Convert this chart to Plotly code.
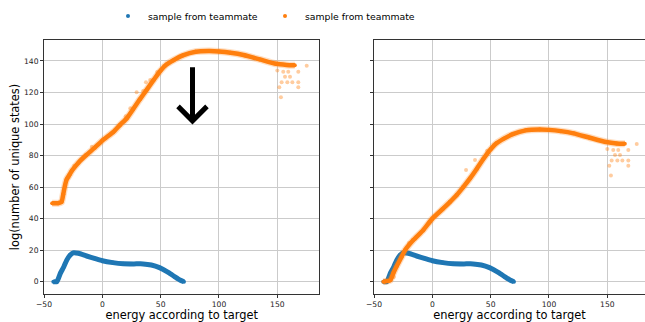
import plotly.graph_objects as go

# ---------------- data ----------------
blue_x = [-42, -39, -36, -33, -30.5, -27.5, -25, -20.5, -13.5, -6, 0, 9, 18, 27, 35, 42, 49, 56.5, 62, 66.5, 70]
blue_y = [0, 0, 5.3, 9.5, 13.7, 16.9, 18.3, 18, 16.3, 14.6, 13.3, 12.1, 11.4, 11.3, 11.3, 10.6, 8.9, 5.9, 3.2, 1.1, 0]

orange_left_x = [-43, -38, -35, -33.5, -32, -30.5, -28, -26, -20.5, -13.5, -6.5, 0, 9.5, 15, 21, 26.5, 32, 38, 44,
                 50, 55, 61, 69, 80, 92, 100, 110, 121, 135, 149, 158, 165]
orange_left_y = [49.7, 49.8, 50.5, 55.5, 61, 65, 68, 70.5, 75.5, 80.5, 85, 89.5, 95, 99.3, 103.7, 109.5, 115.5, 121.7,
                 128, 134, 137.8, 140.5, 143.5, 145.9, 146.3, 146, 145.2, 143.8, 141, 138.2, 137.5, 137.3]

orange_right_x = [-42, -38, -36, -33.4, -30.6, -26.3, -23.4, -16.3, -7.7, 0, 9.4, 15, 20.9, 26.5, 32.3, 38, 43.7,
                  50, 55, 61, 69, 80, 92, 100, 110, 121, 135, 149, 158, 165]
orange_right_y = [0, 0.5, 1, 5.5, 9.8, 15.9, 20, 26.4, 32.8, 40, 46.5, 50.5, 55, 60, 65.5, 71.5, 77.8,
                  84, 87.8, 90.6, 93.6, 96, 96.6, 96.3, 95.5, 94.1, 91.3, 88.6, 87.7, 87.5]

orange_left_out_x = [-36, -33, -31, -29, -24, -9, 20, 24, 29.4, 35, 37.4, 41, 47, 53, 175.2, 150, 155.1, 159.4, 168,
                     156.6, 160.9, 153.7, 158.6, 162.9, 168, 151.7, 168, 153.1]
orange_left_out_y = [51, 58, 63.5, 66, 73.5, 85.6, 105, 110, 120.1, 121, 126.5, 128, 133, 137, 137, 133.9, 133.2,
                     133.2, 133.2, 130, 130, 126.5, 126.5, 126.5, 126.5, 123.3, 123.3, 117]

orange_right_out_x = [-38.5, -33, -29, -20, 28.9, 36.6, 47, 53, 175.2, 150, 155.1, 159.4, 168, 156.6, 160.9, 153.7,
                      158.6, 162.9, 168, 151.7, 168, 153.1]
orange_right_out_y = [0.5, 3, 12, 24.5, 70.8, 77.2, 83, 87, 87.3, 84.2, 83.5, 83.5, 83.5, 80.3, 80.3, 76.8, 76.8,
                      76.8, 76.8, 73.6, 73.6, 67.3]

x_ticks = [-50, 0, 50, 100, 150]
y_ticks = [0, 20, 40, 60, 80, 100, 120, 140]

arrow_x = 77.3
arrow_top = 136
arrow_tip = 102
arrow_half_w = 12.4
arrow_head_h = 9.2

legend_name = "sample from teammate"
x_title = "energy according to target"
y_title = "log(number of unique states)"

BLUE = "#1f77b4"
ORANGE = "#ff7f0e"
FONT = "DejaVu Sans"

fig = go.Figure()

panels = [
    ("x", "y", orange_left_x, orange_left_y, orange_left_out_x, orange_left_out_y, True),
    ("x2", "y2", orange_right_x, orange_right_y, orange_right_out_x, orange_right_out_y, False),
]
for xa, ya, ox, oy, outx, outy, leg in panels:
    fig.add_trace(go.Scatter(x=blue_x, y=blue_y, mode="lines", line=dict(color=BLUE, width=5, shape="spline", smoothing=0.5),
                             xaxis=xa, yaxis=ya, showlegend=False, hoverinfo="skip"))
    fig.add_trace(go.Scatter(x=blue_x, y=blue_y, mode="markers", marker=dict(color=BLUE, size=4),
                             xaxis=xa, yaxis=ya, name=legend_name, showlegend=leg, legendrank=1))
    fig.add_trace(go.Scatter(x=ox, y=oy, mode="lines", line=dict(color=ORANGE, width=7, shape="spline", smoothing=0.5),
                             opacity=0.25, xaxis=xa, yaxis=ya, showlegend=False, hoverinfo="skip"))
    fig.add_trace(go.Scatter(x=ox, y=oy, mode="lines", line=dict(color=ORANGE, width=4.5, shape="spline", smoothing=0.5),
                             xaxis=xa, yaxis=ya, showlegend=False, hoverinfo="skip"))
    fig.add_trace(go.Scatter(x=outx, y=outy, mode="markers", marker=dict(color=ORANGE, size=4, opacity=0.4),
                             xaxis=xa, yaxis=ya, showlegend=False))
    fig.add_trace(go.Scatter(x=ox, y=oy, mode="markers", marker=dict(color=ORANGE, size=4),
                             xaxis=xa, yaxis=ya, name=legend_name, showlegend=leg, legendrank=2))

# arrow (left panel)
fig.add_shape(type="line", xref="x", yref="y", x0=arrow_x, x1=arrow_x, y0=arrow_top, y1=arrow_tip + 1,
              line=dict(color="black", width=5))
fig.add_shape(type="path", xref="x", yref="y",
              path=f"M {arrow_x - arrow_half_w},{arrow_tip + arrow_head_h} L {arrow_x},{arrow_tip} L {arrow_x + arrow_half_w},{arrow_tip + arrow_head_h}",
              line=dict(color="black", width=5))

W, H = 645, 322
axis_common = dict(
    showgrid=True, gridcolor="#cbcbcb", gridwidth=1,
    showline=True, linecolor="#333333", linewidth=1, mirror=True,
    ticks="outside", ticklen=3, tickwidth=1, tickcolor="#333333",
    zeroline=False,
    tickfont=dict(family=FONT, size=7.6, color="#222222"),
)
fig.update_layout(
    width=W, height=H,
    margin=dict(l=0, r=0, t=0, b=0, autoexpand=False),
    paper_bgcolor="white", plot_bgcolor="white",
    font=dict(family=FONT, color="black"),
    xaxis=dict(domain=[44 / W, 319.3 / W], range=[-50, 186], tickvals=x_ticks, anchor="y",
               title=dict(text=x_title, font=dict(family=FONT, size=11.4, color="black"), standoff=3), **axis_common),
    xaxis2=dict(domain=[374 / W, 1.0], range=[-50, 182.3], tickvals=x_ticks, anchor="y2",
                title=dict(text=x_title, font=dict(family=FONT, size=11.4, color="black"), standoff=3), **axis_common),
    yaxis=dict(domain=[1 - 294 / H, 1 - 40 / H], range=[-7.8, 153.3], tickvals=y_ticks, anchor="x",
               title=dict(text=y_title, font=dict(family=FONT, size=11.4, color="black"), standoff=1.5), **axis_common),
    yaxis2=dict(domain=[1 - 294 / H, 1 - 40 / H], range=[-7.8, 153.3], tickvals=y_ticks, anchor="x2",
                matches="y", showticklabels=False, **axis_common),
    legend=dict(orientation="h", x=108 / W, xanchor="left", y=1 - 16 / H, yanchor="middle",
                entrywidth=112, entrywidthmode="pixels",
                font=dict(family=FONT, size=9.3, color="black"), bgcolor="rgba(0,0,0,0)"),
    showlegend=True,
)

fig.write_html("out.html", config={"displayModeBar": False},
               post_script="document.body.style.margin='0px';document.body.style.overflow='hidden';")
